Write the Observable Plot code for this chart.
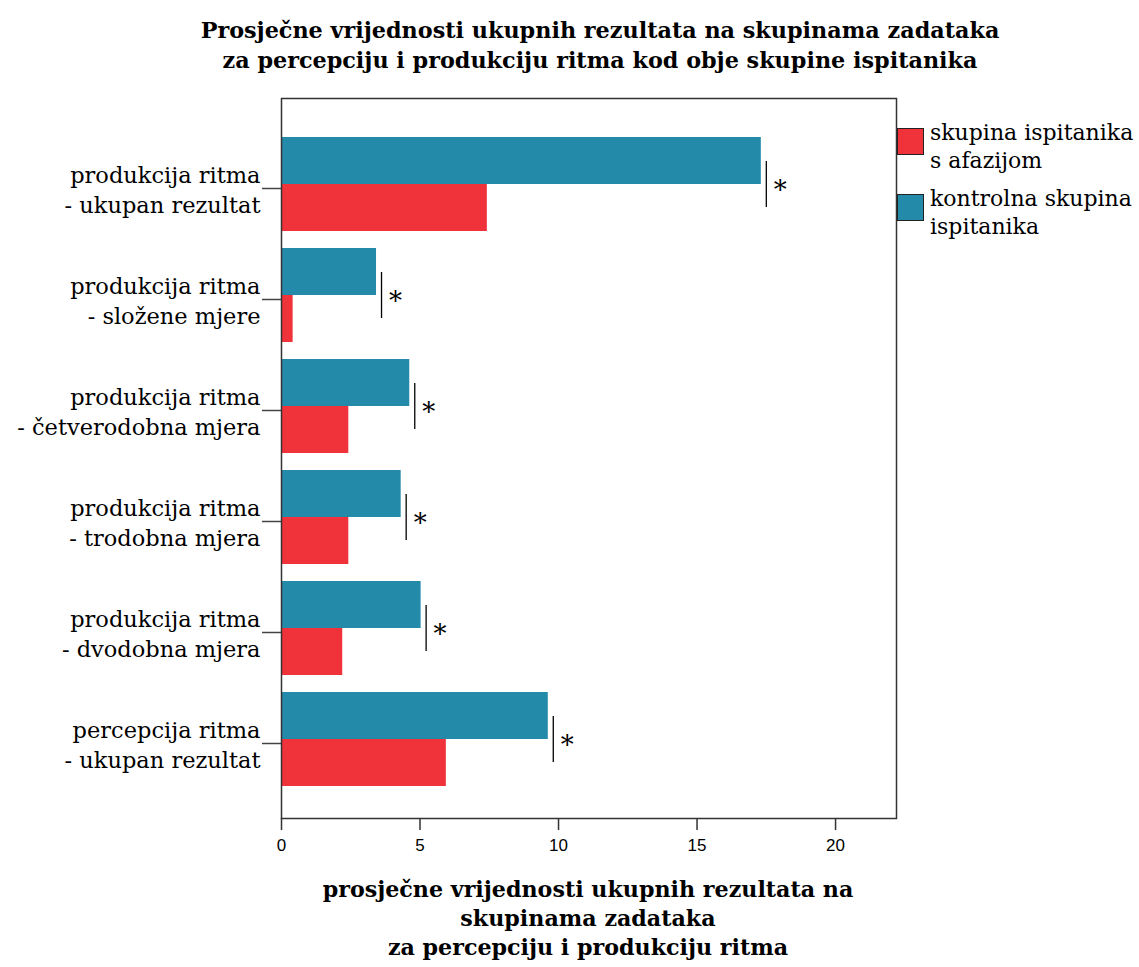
<!DOCTYPE html>
<html>
<head>
<meta charset="utf-8">
<script src="https://cdn.jsdelivr.net/npm/d3@7"></script>
<script src="https://cdn.jsdelivr.net/npm/@observablehq/plot@0.6"></script>
<style>
  html, body { margin: 0; padding: 0; background: #fff; }
  #wrap { position: relative; width: 1139px; height: 967px; overflow: hidden; }
  #title { position: absolute; left: 0; width: 1200px; top: 15px; text-align: center;
           font-family: "DejaVu Serif", serif; font-weight: bold; font-size: 22.3px; line-height: 30px; color: #000; }
  #xtitle { position: absolute; left: 288px; width: 600px; top: 875px; text-align: center;
           font-family: "DejaVu Serif", serif; font-weight: bold; font-size: 22.2px; line-height: 29px; color: #000; }
  #chart { position: absolute; left: 0; top: 0; }
  #legend { position: absolute; left: 897px; top: 119px; font-family: "DejaVu Serif", serif; font-size: 22px; color: #000; }
  .item { position: relative; height: 66px; }
  .sw { position: absolute; left: 0; top: 9px; width: 25px; height: 25px; border: 1.5px solid #222; }
  .lab { position: absolute; left: 33px; top: 0; line-height: 28px; white-space: nowrap; }
</style>
</head>
<body>
<div id="wrap">
  <div id="chart"></div>
  <div id="title"></div>
  <div id="xtitle"></div>
  <div id="legend"></div>
</div>
<script>
const categories = [
  "produkcija ritma\n- ukupan rezultat",
  "produkcija ritma\n- složene mjere",
  "produkcija ritma\n- četverodobna mjera",
  "produkcija ritma\n- trodobna mjera",
  "produkcija ritma\n- dvodobna mjera",
  "percepcija ritma\n- ukupan rezultat"
];
const kontrolna = [17.32, 3.43, 4.63, 4.32, 5.04, 9.63];
const afazija = [7.43, 0.42, 2.43, 2.43, 2.21, 5.95];
const significance = ["*", "*", "*", "*", "*", "*"];
const groups = ["skupina ispitanika\ns afazijom", "kontrolna skupina\nispitanika"];
const groupColors = ["#F0323A", "#248AAA"];
const xTicks = [0, 5, 10, 15, 20];
const titleLines = [
  "Prosječne vrijednosti ukupnih rezultata na skupinama zadataka",
  "za percepciju i produkciju ritma kod obje skupine ispitanika"
];
const xTitleLines = [
  "prosječne vrijednosti ukupnih rezultata na",
  "skupinama zadataka",
  "za percepciju i produkciju ritma"
];

const rowsK = categories.map((c, i) => ({cat: c, value: kontrolna[i], sig: significance[i]}));
const rowsA = categories.map((c, i) => ({cat: c, value: afazija[i]}));

const serif = "DejaVu Serif, serif";
const chart = Plot.plot({
  width: 1139,
  height: 870,
  marginTop: 98,
  marginBottom: 52,
  marginLeft: 281,
  marginRight: 243,
  style: {background: "transparent", color: "#000"},
  x: {domain: [0, 22.2], label: null},
  y: {domain: categories, padding: 0.153, insetTop: 22, insetBottom: 14, label: null},
  marks: [
    Plot.barX(rowsK, {x: "value", y: "cat", fill: groupColors[1], insetBottom: 47}),
    Plot.barX(rowsA, {x: "value", y: "cat", fill: groupColors[0], insetTop: 47}),
    Plot.tickX(rowsK, {x: "value", y: "cat", dx: 5, stroke: "#000", strokeWidth: 1.3, insetTop: 24, insetBottom: 24}),
    Plot.text(rowsK, {x: "value", y: "cat", text: "sig", dx: 19, dy: 6, fontSize: 26, fontFamily: serif, fill: "#000"}),
    Plot.frame({stroke: "#333", strokeWidth: 1.5}),
    Plot.axisY({tickSize: 19, tickPadding: 2, stroke: "#444", strokeWidth: 1.5, fontSize: 22.5, fontFamily: serif,
                fill: "#000", lineHeight: 1.33, dy: 4, label: null}),
    Plot.axisX({ticks: xTicks, tickSize: 12, tickPadding: 8, stroke: "#333", strokeWidth: 1.5, fontSize: 17,
                fontFamily: "Liberation Sans, Arial, sans-serif", fill: "#000", label: null})
  ]
});
document.getElementById("chart").appendChild(chart);

document.getElementById("title").innerHTML = titleLines.join("<br>");
document.getElementById("xtitle").innerHTML = xTitleLines.join("<br>");

const legend = document.getElementById("legend");
groups.forEach((g, i) => {
  const item = document.createElement("div");
  item.className = "item";
  const sw = document.createElement("div");
  sw.className = "sw";
  sw.style.background = groupColors[i];
  const lab = document.createElement("div");
  lab.className = "lab";
  lab.innerHTML = g.split("\n").join("<br>");
  item.appendChild(sw);
  item.appendChild(lab);
  legend.appendChild(item);
});
</script>
</body>
</html>
